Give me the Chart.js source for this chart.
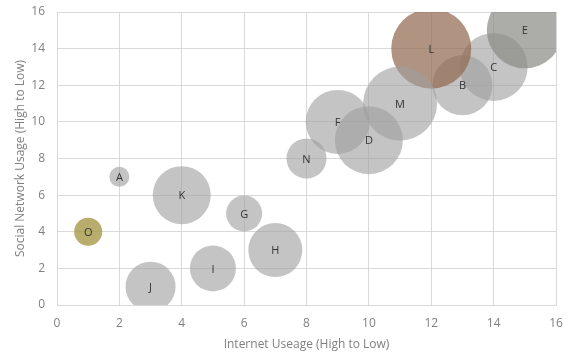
<!DOCTYPE html>
<html>
<head>
<meta charset="utf-8">
<script src="https://cdn.jsdelivr.net/npm/chart.js@4.4.1/dist/chart.umd.min.js"></script>
<style>
  html, body { margin: 0; padding: 0; background: #fff; }
  #wrap { width: 568px; height: 354px; }
</style>
</head>
<body>
<div id="wrap"><canvas id="chart"></canvas></div>
<script>
// bubble data
const labels = ['A','B','C','D','E','F','G','H','I','J','K','L','M','N','O'];
const internet = [2, 13, 14, 10, 15, 9, 6, 7, 5, 3, 4, 12, 11, 8, 1];
const social   = [7, 12, 13, 9, 15, 10, 5, 3, 2, 1, 6, 14, 11, 8, 4];
const size     = [10, 30, 34, 34, 38, 32, 18, 27, 23, 25, 29, 40, 37, 20, 14];

const GRAY = 'rgba(160,160,160,0.62)';
const fills = {
  L: 'rgba(145,105,80,0.72)',
  E: 'rgba(140,140,135,0.72)',
  O: 'rgba(160,145,60,0.75)'
};

const points = labels.map((l, i) => ({ x: internet[i], y: social[i], r: size[i] }));

const bubbleLabels = {
  id: 'bubbleLabels',
  afterDatasetsDraw(chart) {
    const ctx = chart.ctx;
    const meta = chart.getDatasetMeta(0);
    ctx.save();
    ctx.font = '11px "Open Sans", sans-serif';
    ctx.fillStyle = '#333';
    ctx.textAlign = 'center';
    ctx.textBaseline = 'middle';
    meta.data.forEach((el, i) => {
      ctx.fillText(labels[i], el.x, el.y + 1);
    });
    ctx.restore();
  }
};

const axisFont = { family: 'Open Sans', size: 12 };

new Chart(document.getElementById('chart'), {
  type: 'bubble',
  data: {
    datasets: [{
      data: points,
      backgroundColor: labels.map(l => fills[l] || GRAY),
      borderWidth: 0,
      clip: 0
    }]
  },
  options: {
    responsive: true,
    maintainAspectRatio: false,
    animation: false,
    layout: { autoPadding: false, padding: { top: 12, right: 12, left: 0, bottom: 0 } },
    plugins: {
      legend: { display: false },
      tooltip: { enabled: false }
    },
    scales: {
      x: {
        type: 'linear',
        min: 0, max: 16,
        // fixed axis box so the plot area lands where the reference has it
        afterFit: s => { s.height = 49; s.paddingLeft = 0; s.paddingRight = 0; },
        ticks: { stepSize: 2, color: '#808080', font: axisFont, padding: 11 },
        grid: { color: '#d9d9d9', tickLength: 0 },
        border: { color: '#d9d9d9' },
        title: { display: true, text: 'Internet Useage (High to Low)', color: '#808080', font: axisFont, padding: { top: 0, bottom: 2 } }
      },
      y: {
        type: 'linear',
        min: 0, max: 16,
        afterFit: s => { s.width = 57; s.paddingTop = 0; s.paddingBottom = 0; },
        ticks: { stepSize: 2, color: '#808080', font: axisFont, padding: 12 },
        grid: { color: '#d9d9d9', tickLength: 0 },
        border: { color: '#d9d9d9' },
        title: { display: true, text: 'Social Network Usage (High to Low)', color: '#808080', font: axisFont, padding: { top: 13, bottom: 0 } }
      }
    }
  },
  plugins: [bubbleLabels]
});
</script>
</body>
</html>
